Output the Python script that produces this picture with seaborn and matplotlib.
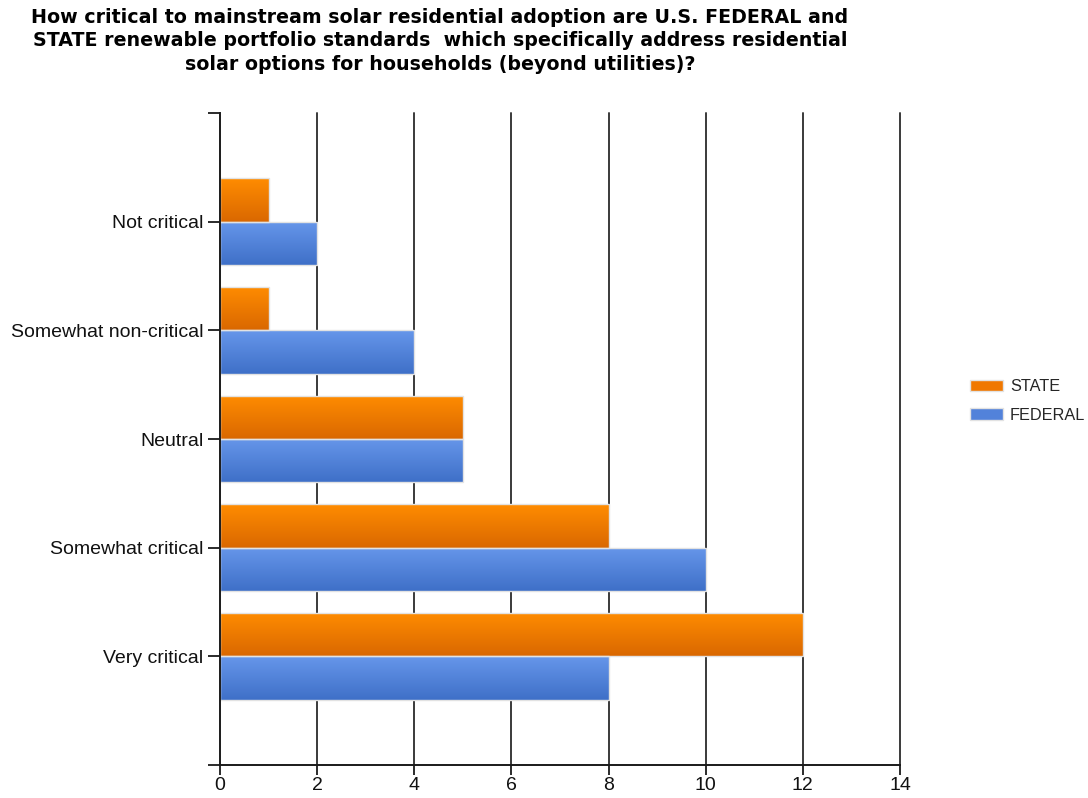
import numpy as np
import pandas as pd
import matplotlib
matplotlib.use("Agg")
import matplotlib.pyplot as plt
from matplotlib.colors import LinearSegmentedColormap
from matplotlib.patches import Patch
import seaborn as sns

categories = ["Not critical", "Somewhat non-critical", "Neutral", "Somewhat critical", "Very critical"]
state_values = [1, 1, 5, 8, 12]
federal_values = [2, 4, 5, 10, 8]
series_names = ["STATE", "FEDERAL"]
x_ticks = [0, 2, 4, 6, 8, 10, 12, 14]
title_text = ("How critical to mainstream solar residential adoption are U.S. FEDERAL and\n"
              "STATE renewable portfolio standards  which specifically address residential\n"
              "solar options for households (beyond utilities)?")

df = pd.DataFrame({
    "category": categories * 2,
    "value": state_values + federal_values,
    "series": [series_names[0]] * len(categories) + [series_names[1]] * len(categories),
})

sns.set_theme(style="white")
plt.rcParams['font.family'] = ['Liberation Sans', 'DejaVu Sans']

fig = plt.figure(figsize=(10.88, 7.98), dpi=100)
ax = fig.add_axes([220 / 1088, 1 - 765 / 798, 680 / 1088, 652 / 798])

colors = {"STATE": "#F07800", "FEDERAL": "#5282DA"}
sns.barplot(data=df, x="value", y="category", hue="series", hue_order=series_names,
            order=categories, orient="h", palette=colors, width=0.8, ax=ax,
            edgecolor="#E2E2E2", linewidth=1.0, legend=False)

grads = {
    "STATE": LinearSegmentedColormap.from_list("o", ["#FF8C00", "#DA6800"]),
    "FEDERAL": LinearSegmentedColormap.from_list("b", ["#6696EA", "#3F70C8"]),
}
grad = np.linspace(0, 1, 64).reshape(-1, 1)
n = len(categories)
for i, patch in enumerate(ax.patches[: 2 * n]):
    s = series_names[i // n]
    x0, y0 = patch.get_x(), patch.get_y()
    w, h = patch.get_width(), patch.get_height()
    im = ax.imshow(grad, cmap=grads[s], aspect="auto",
                   extent=[x0, x0 + w, y0 + h, y0], origin="upper", zorder=patch.get_zorder() + 0.1)
    im.set_clip_path(patch)
    patch.set_facecolor("none")
    patch.set_zorder(patch.get_zorder() + 0.2)

ax.set_xlim(0, 14)
ax.set_ylim(n, -1)
ax.set_xticks(x_ticks)
ax.set_xticklabels([str(t) for t in x_ticks])
ax.set_xlabel("")
ax.set_ylabel("")

ax.set_axisbelow(True)
for t in x_ticks[1:]:
    ax.axvline(t, color="#3A3A3A", linewidth=1.4, zorder=0.5, clip_on=False)

for side in ["top", "right"]:
    ax.spines[side].set_visible(False)
for side in ["left", "bottom"]:
    ax.spines[side].set_color("#1A1A1A")
    ax.spines[side].set_linewidth(1.4)

ax.set_yticks([-1, n], minor=True)
ax.tick_params(axis="y", which="both", direction="out", length=9, width=1.3, color="#1A1A1A",
               left=True, labelsize=14, pad=3, labelcolor="#111111")
ax.tick_params(axis="x", direction="out", length=7, width=1.3, color="#1A1A1A",
               bottom=True, labelsize=14, pad=2, labelcolor="#111111")

fig.text(440 / 1088, 1 - 8 / 798, title_text, ha="center", va="top", fontsize=13.7,
         fontweight="bold", family=["DejaVu Sans"], linespacing=1.3, color="#000000")

handles = [Patch(facecolor=colors[s], edgecolor="#E2E2E2") for s in series_names]
leg = fig.legend(handles, series_names, loc="center left", bbox_to_anchor=(970 / 1088, 1 - 401 / 798),
                 frameon=False, fontsize=11.7, handlelength=2.0, handleheight=0.74,
                 labelspacing=0.84, handletextpad=0.45, borderpad=0, borderaxespad=0)

fig.savefig("out.png", dpi=100)
